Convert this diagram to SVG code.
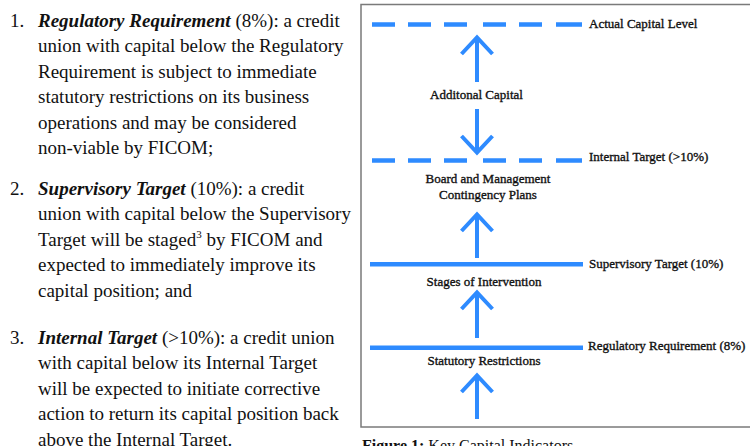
<svg xmlns="http://www.w3.org/2000/svg" width="750" height="446" viewBox="0 0 750 446">
  <style>
    .body { font-family: "Liberation Serif", "Times New Roman", serif; font-size: 19px; fill: #111; }
    .term { font-weight: bold; font-style: italic; }
    .lbl { font-family: "Liberation Serif", "Times New Roman", serif; font-size: 13px; fill: #111; stroke: #111; stroke-width: 0.35; }
    .mid { text-anchor: middle; }
    .level { stroke: #2e8bff; stroke-width: 4.5; fill: none; }
    .arrow { stroke: #2e8bff; stroke-width: 4; fill: none; stroke-linejoin: miter; }
    .cap { font-family: "Liberation Serif", "Times New Roman", serif; font-size: 16px; fill: #111; }
  </style>
  <rect width="750" height="446" fill="#fff"/>

  <!-- Definitions text -->
  <g id="def-regulatory" class="body">
    <text x="10" y="26.5">1.</text>
    <text x="38" y="26.5"><tspan class="term">Regulatory Requirement</tspan> (8%): a credit</text>
    <text x="38" y="52">union with capital below the Regulatory</text>
    <text x="38" y="77.5">Requirement is subject to immediate</text>
    <text x="38" y="103">statutory restrictions on its business</text>
    <text x="38" y="128.5">operations and may be considered</text>
    <text x="38" y="154">non-viable by FICOM;</text>
  </g>
  <g id="def-supervisory" class="body">
    <text x="10" y="194.5">2.</text>
    <text x="38" y="194.5"><tspan class="term">Supervisory Target</tspan> (10%): a credit</text>
    <text x="38" y="220">union with capital below the Supervisory</text>
    <text x="38" y="245.5">Target will be staged<tspan font-size="11" dy="-8">3</tspan><tspan dy="8"> by FICOM and</tspan></text>
    <text x="38" y="271">expected to immediately improve its</text>
    <text x="38" y="296.5">capital position; and</text>
  </g>
  <g id="def-internal" class="body">
    <text x="10" y="343.5">3.</text>
    <text x="38" y="343.5"><tspan class="term">Internal Target</tspan> (&gt;10%): a credit union</text>
    <text x="38" y="369">with capital below its Internal Target</text>
    <text x="38" y="394.5">will be expected to initiate corrective</text>
    <text x="38" y="420">action to return its capital position back</text>
    <text x="38" y="446">above the Internal Target.</text>
  </g>

  <!-- Figure frame and caption -->
  <g id="frame">
    <rect x="361" y="4.5" width="420" height="422.5" fill="none" stroke="#7a7a7a" stroke-width="1.5"/>
    <text class="cap" x="362" y="450.5"><tspan font-weight="bold">Figure 1:</tspan> Key Capital Indicators</text>
  </g>

  <!-- Capital level lines -->
  <g id="level-actual">
    <path class="level" d="M372 24.5h23M408 24.5h23M444 24.5h23M483 24.5h23M519 24.5h23M556 24.5h26"/>
    <text class="lbl" x="589" y="27.5">Actual Capital Level</text>
  </g>
  <g id="level-internal">
    <path class="level" d="M372 160.5h23M408 160.5h23M444 160.5h23M483 160.5h23M519 160.5h23M556 160.5h26"/>
    <text class="lbl" x="589" y="160.5">Internal Target (&gt;10%)</text>
  </g>
  <g id="level-supervisory">
    <path class="level" d="M370 264.3H583"/>
    <text class="lbl" x="589" y="268">Supervisory Target (10%)</text>
  </g>
  <g id="level-regulatory">
    <path class="level" d="M370 347.7H583"/>
    <text class="lbl" x="588" y="350">Regulatory Requirement (8%)</text>
  </g>

  <!-- Zone labels -->
  <g id="zone-additional">
    <text class="lbl mid" x="476.5" y="98.5">Additonal Capital</text>
  </g>
  <g id="zone-board">
    <text class="lbl mid" x="488" y="183">Board and Management</text>
    <text class="lbl mid" x="488" y="198.5">Contingency Plans</text>
  </g>
  <g id="zone-stages">
    <text class="lbl mid" x="484" y="285.5">Stages of Intervention</text>
  </g>
  <g id="zone-statutory">
    <text class="lbl mid" x="484" y="364.5">Statutory Restrictions</text>
  </g>

  <!-- Arrows -->
  <g id="connectors">
    <path class="arrow" d="M477 82V37.5M461.5 54L477 37.5L492.5 54"/>
    <path class="arrow" d="M477 109V152.5M461.5 136L477 152.5L492.5 136"/>
    <path class="arrow" d="M477 258V214.5M461.5 231L477 214.5L492.5 231"/>
    <path class="arrow" d="M477 338V292.5M461.5 309L477 292.5L492.5 309"/>
    <path class="arrow" d="M477 419V375.5M461.5 392L477 375.5L492.5 392"/>
  </g>
</svg>
